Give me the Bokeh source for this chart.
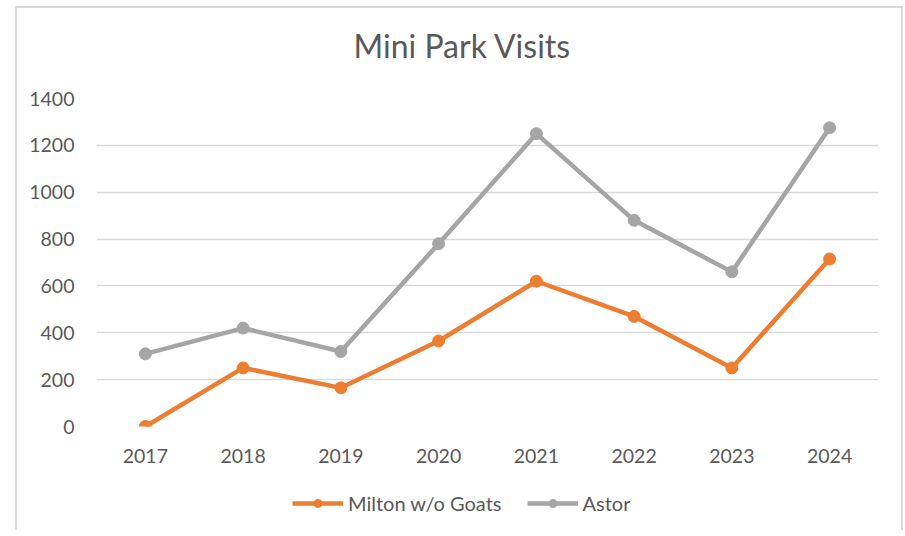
from bokeh.plotting import figure
from bokeh.models import Legend, LegendItem, FactorRange, SingleIntervalTicker, Range1d, Title
from bokeh.layouts import column
from bokeh.embed import file_html
from bokeh.resources import INLINE

years = ["2017", "2018", "2019", "2020", "2021", "2022", "2023", "2024"]
milton = [0, 250, 165, 365, 620, 470, 250, 715]
astor = [310, 420, 320, 780, 1250, 880, 660, 1275]
series_names = ["Milton w/o Goats", "Astor"]

ORANGE = "#ED7D31"
GRAY = "#A5A5A5"
TEXT = "#595959"
FONT = "Lato"

p = figure(x_range=FactorRange(*years), y_range=Range1d(0, 1400),
           width=884, height=462, output_backend="svg", toolbar_location=None,
           min_border_left=79, min_border_right=23, min_border_top=90, min_border_bottom=44)

p.title.text = "Mini Park Visits"
p.title.align = "left"
p.title.offset = 257
p.title.text_font = FONT
p.title.text_font_size = "32px"
p.title.text_font_style = "normal"
p.title.text_color = TEXT
p.add_layout(Title(text=" ", text_font_size="15px"), "above")

p.outline_line_color = None
p.xgrid.grid_line_color = None
p.ygrid.grid_line_color = "#D9D9D9"
p.ygrid.grid_line_width = 1.5
p.yaxis.ticker = SingleIntervalTicker(interval=200)

for ax in (p.xaxis[0], p.yaxis[0]):
    ax.axis_line_color = None
    ax.major_tick_line_color = None
    ax.minor_tick_line_color = None
    ax.major_label_text_font = FONT
    ax.major_label_text_font_size = "19.5px"
    ax.major_label_text_color = TEXT
p.yaxis.major_label_standoff = 16
p.xaxis.major_label_standoff = 16

l1 = p.line(years, milton, line_color=ORANGE, line_width=4.5)
s1 = p.scatter(years, milton, size=12, fill_color=ORANGE, line_color=ORANGE)
l2 = p.line(years, astor, line_color=GRAY, line_width=4.5)
s2 = p.scatter(years, astor, size=12, fill_color=GRAY, line_color=GRAY)

# legend strip below the chart: same series, drawn outside its visible range
p2 = figure(width=884, height=60, output_backend="svg", toolbar_location=None,
            x_range=FactorRange(*years), y_range=Range1d(5000, 6000),
            min_border_left=79, min_border_right=23, min_border_top=0, min_border_bottom=0)
p2.axis.visible = False
p2.grid.visible = False
p2.outline_line_color = None
g1 = p2.line(years, milton, line_color=ORANGE, line_width=4.5)
h1 = p2.scatter(years, milton, size=13, fill_color=ORANGE, line_color=ORANGE)
g2 = p2.line(years, astor, line_color=GRAY, line_width=4.5)
h2 = p2.scatter(years, astor, size=13, fill_color=GRAY, line_color=GRAY)

legend = Legend(items=[LegendItem(label=series_names[0], renderers=[g1, h1]),
                       LegendItem(label=series_names[1], renderers=[g2, h2])],
                orientation="horizontal", location=(196, 15),
                label_text_font=FONT, label_text_font_size="20px", label_text_color=TEXT,
                glyph_width=51, label_standoff=5, spacing=25, border_line_color=None,
                background_fill_alpha=0, margin=0, padding=0)
p2.add_layout(legend)

layout = column(p, p2, spacing=0,
                styles={"margin-left": "15px", "margin-top": "6px",
                        "border-top": "2px solid #D9D9D9", "border-left": "2px solid #D9D9D9",
                        "border-right": "2px solid #D9D9D9"})

open("out.html", "w").write(file_html(layout, INLINE))
